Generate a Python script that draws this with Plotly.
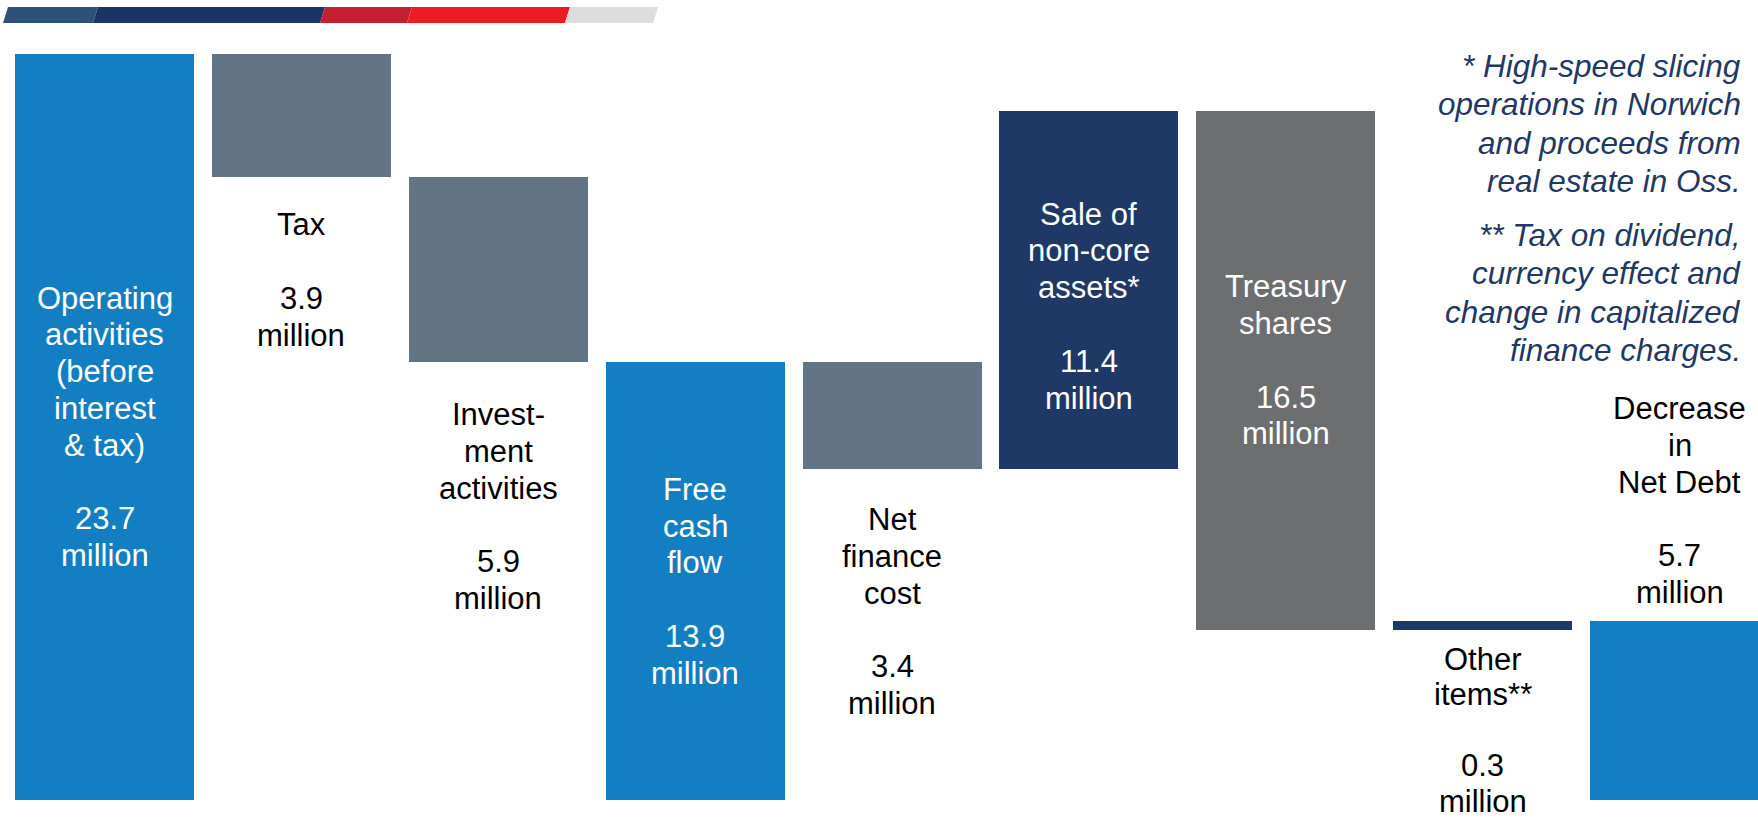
import plotly.graph_objects as go

# ---- data ----
categories = ["Operating activities (before interest & tax)", "Tax", "Investment activities",
              "Free cash flow", "Net finance cost", "Sale of non-core assets*",
              "Treasury shares", "Other items**", "Decrease in Net Debt"]
label_lines = [["Operating", "activities", "(before", "interest", "& tax)"], ["Tax"],
               ["Invest-", "ment", "activities"], ["Free", "cash", "flow"],
               ["Net", "finance", "cost"], ["Sale of", "non-core", "assets*"],
               ["Treasury", "shares"], ["Other", "items**"], ["Decrease", "in", "Net Debt"]]
values = [23.7, -3.9, -5.9, 13.9, -3.4, 11.4, -16.5, 0.3, 5.7]
measures = ["total", "relative", "relative", "total", "relative", "relative", "relative", "relative", "total"]
unit = "million"
note1 = ["* High-speed slicing", "operations in Norwich", "and proceeds from", "real estate in Oss."]
note2 = ["** Tax on dividend,", "currency effect and", "change in capitalized", "finance charges."]

# ---- styling ----
BLUE, SLATE, NAVY, GRAY = "#137EC1", "#637584", "#1E3966", "#6D6E70"
bar_colors = [BLUE, SLATE, SLATE, BLUE, SLATE, NAVY, GRAY, NAVY, BLUE]
label_mode = ["inside", "below", "below", "inside", "below", "inside", "inside", "below", "above"]
label_gap = [0, 48, 52, 0, 50, 16, -10, 29, 28]   # px: gap from bar edge, or centre offset (down) inside
label_pitch = [36.8, 36.8, 36.8, 36.8, 36.8, 36.8, 36.8, 35.5, 36.8]
FONT = "Liberation Sans, Arial, sans-serif"
FS = 31
W, H = 1758, 819

# ---- waterfall geometry computed from the data ----
bases, heights = [], []
running = 0.0
for v, m in zip(values, measures):
    if m == "total":
        bases.append(0.0)
        heights.append(v)
        running = v
    else:
        new = running + v
        bases.append(min(running, new))
        heights.append(abs(v))
        running = new

xs = list(range(len(categories)))

fig = go.Figure()
fig.add_trace(go.Bar(
    x=xs, y=heights, base=bases, width=0.909,
    marker=dict(color=bar_colors, line=dict(width=0)),
    hovertext=categories, showlegend=False,
))

for i in xs:
    lines = label_lines[i] + ["", f"{abs(values[i])}", unit]
    n = len(lines)
    P = label_pitch[i]
    lo, hi = bases[i], bases[i] + heights[i]
    mode = label_mode[i]
    if mode == "inside":
        anchor, off0, col = (lo + hi) / 2, -(n - 1) / 2 * P + label_gap[i], "white"
    elif mode == "below":
        anchor, off0, col = lo, label_gap[i], "black"
    else:
        anchor, off0, col = hi, -label_gap[i] - (n - 1) * P, "black"
    for k, t in enumerate(lines):
        if not t:
            continue
        fig.add_annotation(x=i, y=anchor, xref="x", yref="y", text=t, showarrow=False,
                           xanchor="center", yanchor="middle", yshift=-(off0 + k * P),
                           font=dict(family=FONT, size=FS, color=col))

# footnotes (right-aligned, italic)
NOTE = "#1F3864"
NPITCH = 38.4
note_y = 66
for block in (note1, note2):
    for t in block:
        fig.add_annotation(xref="paper", yref="paper", x=1743 / W, y=1 - note_y / H,
                           xanchor="right", yanchor="middle", showarrow=False, text=t,
                           font=dict(family=FONT, size=31.5, color=NOTE, style="italic"))
        note_y += NPITCH
    note_y += 15.5

# decorative header stripe
stripe = [(8, 98, "#2F5178"), (98, 325, "#173566"), (325, 412, "#C32032"),
          (412, 570, "#ED1C24"), (570, 658, "#DCDDDC")]
y_top, y_bot, slant = 7, 23, 5
for x0, x1, c in stripe:
    pts = [(x0, y_top), (x1, y_top), (x1 - slant, y_bot), (x0 - slant, y_bot)]
    path = "M " + " L ".join(f"{px / W:.5f},{1 - py / H:.5f}" for px, py in pts) + " Z"
    fig.add_shape(type="path", path=path, xref="paper", yref="paper",
                  fillcolor=c, line=dict(width=0), layer="above")

fig.update_layout(
    width=W, height=H, margin=dict(l=0, r=0, t=0, b=0),
    paper_bgcolor="white", plot_bgcolor="white",
    xaxis=dict(range=[-0.531, 8.398], visible=False, fixedrange=True),
    yaxis=dict(range=[-0.6036, 25.413], visible=False, fixedrange=True),
    bargap=0, showlegend=False,
)

fig.write_html("out.html")
